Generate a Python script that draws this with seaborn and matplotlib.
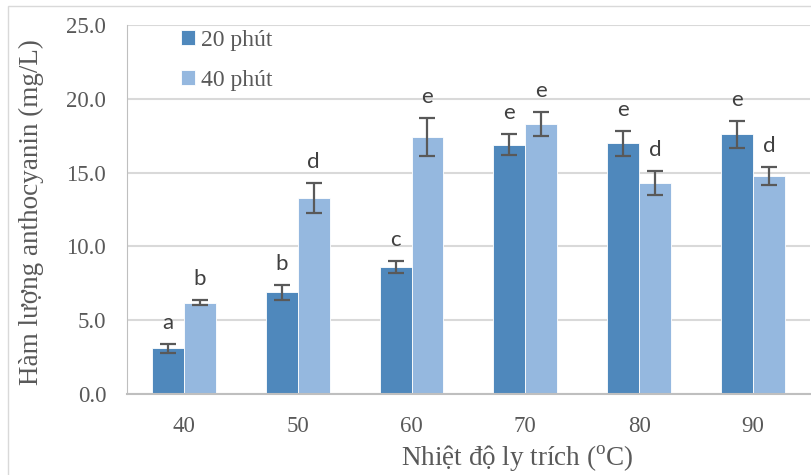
import numpy as np
import pandas as pd
import seaborn as sns
import matplotlib.pyplot as plt
from matplotlib.patches import Rectangle

# data
temps = ["40", "50", "60", "70", "80", "90"]
times = ["20 phút", "40 phút"]
val_20 = [3.1, 6.9, 8.6, 16.9, 17.0, 17.6]
val_40 = [6.2, 13.3, 17.4, 18.3, 14.3, 14.8]
err_20 = [0.3, 0.5, 0.4, 0.7, 0.85, 0.9]
err_40 = [0.17, 1.0, 1.3, 0.8, 0.8, 0.6]
let_20 = ["a", "b", "c", "e", "e", "e"]
let_40 = ["b", "d", "e", "e", "d", "d"]

df = pd.DataFrame({
    "temp": temps * 2,
    "time": [times[0]] * 6 + [times[1]] * 6,
    "value": val_20 + val_40,
    "err": err_20 + err_40,
    "letter": let_20 + let_40,
})

sns.set_style("white")
plt.rcParams["font.family"] = ["Liberation Serif", "DejaVu Serif"]
plt.rcParams["mathtext.fontset"] = "custom"
plt.rcParams["mathtext.rm"] = "Liberation Serif"

fig = plt.figure(figsize=(8.12, 4.75), dpi=100)
ax = fig.add_axes([0.1564, 0.1705, 0.841, 0.7765])

sns.barplot(data=df, x="temp", y="value", hue="time", order=temps, hue_order=times,
            palette=["#4F88BC", "#95B8DF"], saturation=1, width=0.56, errorbar=None,
            edgecolor="white", linewidth=0.6, ax=ax)

grey = "#595959"
for cont, t in zip(ax.containers, times):
    sub = df[df["time"] == t].set_index("temp").loc[temps]
    xs = [p.get_x() + p.get_width() / 2 for p in cont.patches]
    ax.errorbar(xs, sub["value"], yerr=sub["err"], fmt="none", ecolor=grey,
                elinewidth=1.6, capsize=6, capthick=1.6, zorder=5)
    for x, v, e, l in zip(xs, sub["value"], sub["err"], sub["letter"]):
        ax.annotate(l, (x, v + e), xytext=(0, 8), textcoords="offset points",
                    ha="center", va="bottom", fontsize=16, color="#404040",
                    family=["Lato", "DejaVu Sans"])

ax.set_xlim(-0.5, 5.5)
ax.set_ylim(0, 25)
ax.set_yticks(np.arange(0, 25.1, 5))
ax.set_yticklabels([f"{v:.1f}" for v in np.arange(0, 25.1, 5)])
ax.yaxis.grid(True, color="#D9D9D9", linewidth=1.5)
ax.set_axisbelow(True)
for s in ["top", "right"]:
    ax.spines[s].set_visible(False)
ax.spines["left"].set_color("#BFBFBF")
ax.spines["bottom"].set_color("#BFBFBF")
ax.spines["bottom"].set_linewidth(1.5)
ax.tick_params(axis="both", length=0, labelsize=16.5, labelcolor=grey)
ax.tick_params(axis="y", pad=15)
ax.tick_params(axis="x", pad=16)

ax.set_xlabel(r"Nhiệt độ ly trích ($^{\mathrm{o}}$C)", fontsize=19.5, color=grey)
ax.set_ylabel("Hàm lượng anthocyanin (mg/L)", fontsize=19.5, color=grey)
ax.xaxis.set_label_coords(0.571, -0.133)
ax.yaxis.set_label_coords(-0.121, 0.494)

ax.legend(loc="upper left", bbox_to_anchor=(169 / 812, 1 - 18 / 475),
          bbox_transform=fig.transFigure, frameon=False, fontsize=17,
          handlelength=0.6, handleheight=0.6, handletextpad=0.25,
          labelspacing=0.8, borderpad=0, labelcolor=grey)

fig.patches.append(Rectangle((8 / 812, -0.01), 1, 1 - 6 / 475 + 0.01,
                             transform=fig.transFigure, fill=False,
                             edgecolor="#D9D9D9", linewidth=1))

fig.savefig("out.png", dpi=100)
